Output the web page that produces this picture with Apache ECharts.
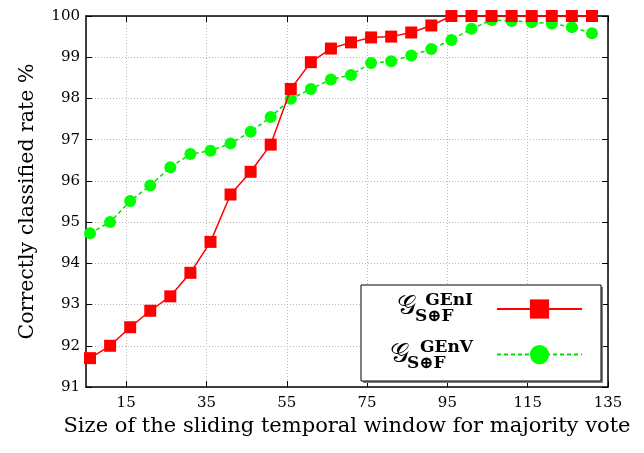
<!DOCTYPE html>
<html>
<head>
<meta charset="utf-8">
<script src="https://cdn.jsdelivr.net/npm/echarts@6/dist/echarts.min.js"></script>
<style>
  html, body { margin: 0; padding: 0; background: #fff; }
  #chart { width: 644px; height: 453px; }
</style>
</head>
<body>
<div id="chart"></div>
<script>
// Window sizes (x) and correctly classified rate (%) for the two configurations
const windowSizes = [6, 11, 16, 21, 26, 31, 36, 41, 46, 51, 56, 61, 66, 71, 76, 81, 86, 91, 96, 101, 106, 111, 116, 121, 126, 131];
const rateGEnI = [91.70, 92.00, 92.45, 92.85, 93.20, 93.77, 94.52, 95.67, 96.22, 96.88, 98.23, 98.88, 99.21, 99.36, 99.48, 99.50, 99.60, 99.77, 100, 100, 100, 100, 100, 100, 100, 100];
const rateGEnV = [94.73, 95.00, 95.51, 95.89, 96.33, 96.65, 96.73, 96.91, 97.19, 97.55, 97.99, 98.23, 98.46, 98.57, 98.86, 98.90, 99.04, 99.20, 99.42, 99.69, 99.90, 99.88, 99.85, 99.82, 99.73, 99.58];
const xTicks = [15, 35, 55, 75, 95, 115, 135];
const seriesNames = ['GEnI', 'GEnV'];

const serif = 'DejaVu Serif';
const pairs = (ys) => windowSizes.map((x, i) => [x, ys[i]]);

const gridLine = { show: true, lineStyle: { color: '#b8b8b8', width: 1, type: [1, 2] } };
const frame = { show: true, lineStyle: { color: '#000', width: 1.5 } };
const innerTick = { show: true, inside: true, length: 6, lineStyle: { color: '#000', width: 1 } };

// text pieces of the legend labels: script G with superscript and subscript
const scriptG = (x, y) => ({ type: 'text', z: 12, x, y, style: { text: '𝒢', fontFamily: serif, fontSize: 27, fill: '#000', align: 'center', verticalAlign: 'middle' } });
const supText = (x, y, t) => ({ type: 'text', z: 12, x, y, style: { text: t, fontFamily: serif, fontSize: 17, fontWeight: 'bold', fill: '#000', align: 'right', verticalAlign: 'middle' } });
const subText = (x, y, t) => ({ type: 'text', z: 12, x, y, style: { text: t, fontFamily: serif, fontSize: 17, fontWeight: 'bold', fill: '#000', align: 'left', verticalAlign: 'middle' } });

const chart = echarts.init(document.getElementById('chart'), null, { renderer: 'canvas' });
chart.setOption({
  animation: false,
  backgroundColor: '#fff',
  grid: { left: 86, right: 36, top: 16, bottom: 66 },
  xAxis: [
    {
      type: 'value', position: 'bottom', min: 5, max: 135,
      name: 'Size of the sliding temporal window for majority vote',
      nameLocation: 'middle', nameGap: 27,
      nameTextStyle: { fontFamily: serif, fontSize: 21, color: '#000' },
      axisLine: frame,
      axisTick: Object.assign({ customValues: xTicks }, innerTick),
      axisLabel: { customValues: xTicks, fontFamily: serif, fontSize: 15, color: '#000', margin: 9 },
      splitLine: gridLine
    },
    {
      type: 'value', position: 'top', min: 5, max: 135,
      axisLine: frame,
      axisTick: Object.assign({ customValues: xTicks }, innerTick),
      axisLabel: { show: false },
      splitLine: { show: false }
    }
  ],
  yAxis: [
    {
      type: 'value', position: 'left', min: 91, max: 100, interval: 1,
      name: 'Correctly classified rate %',
      nameLocation: 'middle', nameGap: 48,
      nameTextStyle: { fontFamily: serif, fontSize: 20.5, color: '#000' },
      axisLine: frame,
      axisTick: innerTick,
      axisLabel: { fontFamily: serif, fontSize: 15, color: '#000', margin: 6 },
      splitLine: gridLine
    },
    {
      type: 'value', position: 'right', min: 91, max: 100, interval: 1,
      axisLine: frame,
      axisTick: innerTick,
      axisLabel: { show: false },
      splitLine: { show: false }
    }
  ],
  legend: {
    orient: 'vertical', left: 496, top: 297, padding: 0, z: 20,
    itemWidth: 85, itemHeight: 24, itemGap: 24,
    formatter: () => '',
    data: seriesNames
  },
  graphic: [
    { type: 'rect', z: 10, shape: { x: 363, y: 287, width: 240, height: 96 }, style: { fill: '#808080' } },
    { type: 'rect', z: 11, shape: { x: 361, y: 285, width: 240, height: 96 }, style: { fill: '#fff', stroke: '#000', lineWidth: 1 } },
    scriptG(406, 307), supText(473, 301, 'GEnI'), subText(415, 317, 'S⊕F'),
    scriptG(399, 355), supText(473, 348, 'GEnV'), subText(407, 364, 'S⊕F')
  ],
  series: [
    {
      name: seriesNames[0], type: 'line', data: pairs(rateGEnI),
      symbol: 'rect', symbolSize: 12, clip: false,
      itemStyle: { color: '#ff0000' },
      lineStyle: { color: '#ff0000', width: 1.5, type: 'solid' },
      z: 3
    },
    {
      name: seriesNames[1], type: 'line', data: pairs(rateGEnV),
      symbol: 'circle', symbolSize: 12, clip: false,
      itemStyle: { color: '#00ff00' },
      lineStyle: { color: '#00e000', width: 1.5, type: [4, 3] },
      z: 2
    }
  ]
});
</script>
</body>
</html>
